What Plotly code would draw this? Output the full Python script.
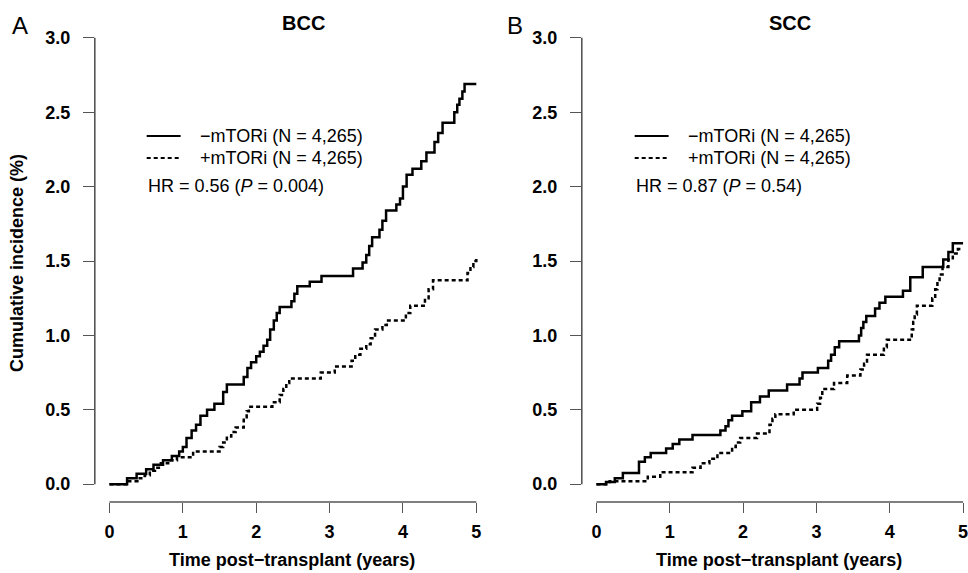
import plotly.graph_objects as go

# ---------------- data ----------------
bcc_minus_t = [0, 0.24, 0.37, 0.5, 0.6, 0.73, 0.85, 0.95, 1.0, 1.05, 1.12, 1.18, 1.24, 1.33, 1.43,
               1.55, 1.6, 1.83, 1.88, 1.93, 2.0, 2.05, 2.1, 2.15, 2.19, 2.24, 2.28, 2.32, 2.48, 2.52,
               2.56, 2.73, 2.89, 3.32, 3.45, 3.5, 3.54, 3.58, 3.68, 3.72, 3.77, 3.91, 3.96, 4.0,
               4.05, 4.13, 4.25, 4.32, 4.43, 4.48, 4.54, 4.7, 4.74, 4.77, 4.81, 4.84, 5.0]
bcc_minus_y = [0, 0.04, 0.07, 0.1, 0.13, 0.16, 0.19, 0.22, 0.25, 0.31, 0.36, 0.4, 0.46, 0.5, 0.54,
               0.62, 0.67, 0.72, 0.78, 0.82, 0.86, 0.89, 0.93, 0.97, 1.04, 1.1, 1.15, 1.19, 1.23, 1.28,
               1.33, 1.36, 1.40, 1.45, 1.49, 1.54, 1.6, 1.66, 1.71, 1.77, 1.84, 1.88, 1.92, 2.0,
               2.08, 2.12, 2.17, 2.23, 2.3, 2.36, 2.43, 2.5, 2.55, 2.59, 2.64, 2.69, 2.69]

bcc_plus_t = [0, 0.25, 0.38, 0.48, 0.55, 0.62, 0.7, 0.8, 0.92, 1.14, 1.5, 1.55, 1.6, 1.66, 1.72,
              1.83, 1.87, 1.9, 2.22, 2.32, 2.37, 2.41, 2.45, 2.88, 3.07, 3.3, 3.35, 3.42, 3.5, 3.56,
              3.62, 3.72, 3.78, 4.04, 4.1, 4.3, 4.35, 4.41, 4.88, 4.92, 4.96, 5.0]
bcc_plus_y = [0, 0.02, 0.04, 0.06, 0.09, 0.11, 0.14, 0.16, 0.18, 0.22, 0.25, 0.28, 0.32, 0.35, 0.38,
              0.45, 0.49, 0.52, 0.55, 0.6, 0.64, 0.68, 0.71, 0.75, 0.79, 0.83, 0.87, 0.91, 0.94, 0.98,
              1.04, 1.07, 1.10, 1.15, 1.20, 1.25, 1.31, 1.37, 1.42, 1.46, 1.50, 1.53]

scc_minus_t = [0, 0.13, 0.25, 0.36, 0.58, 0.66, 0.74, 0.95, 1.04, 1.13, 1.31, 1.69, 1.76, 1.8, 1.85,
               1.99, 2.11, 2.23, 2.35, 2.6, 2.77, 2.81, 3.02, 3.16, 3.2, 3.25, 3.31, 3.58, 3.61, 3.64,
               3.68, 3.8, 3.86, 3.94, 4.18, 4.28, 4.45, 4.73, 4.8, 4.86, 5.0]
scc_minus_y = [0, 0.015, 0.04, 0.075, 0.15, 0.18, 0.21, 0.24, 0.27, 0.30, 0.33, 0.36, 0.39, 0.43, 0.46,
               0.49, 0.55, 0.59, 0.63, 0.67, 0.71, 0.75, 0.78, 0.83, 0.87, 0.92, 0.96, 1.0, 1.05, 1.09,
               1.13, 1.18, 1.22, 1.26, 1.30, 1.39, 1.46, 1.51, 1.56, 1.62, 1.62]

scc_plus_t = [0, 0.18, 0.7, 0.87, 1.31, 1.42, 1.54, 1.65, 1.85, 1.9, 1.96, 2.19, 2.36, 2.4, 2.44,
              2.69, 3.01, 3.05, 3.08, 3.24, 3.42, 3.6, 3.65, 3.69, 3.92, 3.96, 4.3, 4.32, 4.34, 4.37,
              4.58, 4.62, 4.65, 4.68, 4.72, 4.8, 4.86, 4.93, 5.0]
scc_plus_y = [0, 0.02, 0.05, 0.08, 0.11, 0.14, 0.17, 0.21, 0.25, 0.28, 0.31, 0.34, 0.40, 0.44, 0.47,
              0.50, 0.54, 0.58, 0.64, 0.68, 0.73, 0.77, 0.81, 0.87, 0.92, 0.97, 1.04, 1.09, 1.14, 1.2,
              1.25, 1.31, 1.36, 1.41, 1.46, 1.51, 1.55, 1.58, 1.58]

panel_titles = ["BCC", "SCC"]
panel_letters = ["A", "B"]
series_names = ["\u2212mTORi (N = 4,265)", "+mTORi (N = 4,265)"]
hr_texts = ["HR = 0.56 (<i>P</i> = 0.004)", "HR = 0.87 (<i>P</i> = 0.54)"]
x_ticks = [0, 1, 2, 3, 4, 5]
y_ticks = [0.0, 0.5, 1.0, 1.5, 2.0, 2.5, 3.0]
x_title = "Time post\u2212transplant (years)"
y_title = "Cumulative incidence (%)"

# ---------------- layout helpers ----------------
W, H = 968, 573
FONT = "Liberation Sans, Arial, Helvetica, sans-serif"


def px(x):
    return x / W


def py(y):
    return 1 - y / H


fig = go.Figure()

SOLID = dict(color="black", width=2.5, shape="hv")
DASH = dict(color="black", width=2.5, shape="hv", dash="4px,3px")

fig.add_trace(go.Scatter(x=bcc_minus_t, y=bcc_minus_y, mode="lines", line=SOLID,
                         name=series_names[0], xaxis="x", yaxis="y", showlegend=False))
fig.add_trace(go.Scatter(x=bcc_plus_t, y=bcc_plus_y, mode="lines", line=DASH,
                         name=series_names[1], xaxis="x", yaxis="y", showlegend=False))
fig.add_trace(go.Scatter(x=scc_minus_t, y=scc_minus_y, mode="lines", line=SOLID,
                         name=series_names[0], xaxis="x2", yaxis="y2", showlegend=False))
fig.add_trace(go.Scatter(x=scc_plus_t, y=scc_plus_y, mode="lines", line=DASH,
                         name=series_names[1], xaxis="x2", yaxis="y2", showlegend=False))

AX_COLOR = "#555555"
tickfont = dict(family=FONT, size=18, color="black", weight="bold")

xcommon = dict(tickmode="array", tickvals=x_ticks, ticktext=[str(v) for v in x_ticks],
               ticks="outside", ticklen=10, tickwidth=1.4, tickcolor=AX_COLOR,
               showgrid=False, zeroline=False, showline=False, tickfont=tickfont,
               ticklabelstandoff=3, ticklabeloverflow="allow", fixedrange=True)
ycommon = dict(tickmode="array", tickvals=y_ticks, ticktext=[f"{v:.1f}" for v in y_ticks],
               ticks="outside", ticklen=11, tickwidth=1.4, tickcolor=AX_COLOR,
               showgrid=False, zeroline=False, showline=False, tickfont=tickfont,
               ticklabelstandoff=9, range=[-0.12, 3.12], fixedrange=True)

ydom = [py(502), py(20)]

fig.update_layout(
    width=W, height=H,
    margin=dict(l=0, r=0, t=0, b=0),
    paper_bgcolor="white", plot_bgcolor="white",
    showlegend=False,
    font=dict(family=FONT, color="black"),
    xaxis=dict(domain=[px(95), px(492)], range=[-0.2, 5.2], anchor="y", **xcommon),
    yaxis=dict(domain=ydom, anchor="x", **ycommon),
    xaxis2=dict(domain=[px(583), 1.0], range=[-0.2, 5.04], anchor="y2", **xcommon),
    yaxis2=dict(domain=ydom, anchor="x2", **ycommon),
)

shapes = []
annotations = []
panels = [("x", "y", 95, 147), ("x2", "y2", 583, 636)]
for i, (xa, ya, left_px, leg_px) in enumerate(panels):
    # R-style detached axis lines spanning first to last tick
    shapes.append(dict(type="line", xref=xa, yref=f"{ya} domain", x0=x_ticks[0], x1=x_ticks[-1],
                       y0=0, y1=0, line=dict(color=AX_COLOR, width=1.6)))
    shapes.append(dict(type="line", xref=f"{xa} domain", yref=ya, x0=0, x1=0,
                       y0=y_ticks[0], y1=y_ticks[-1], line=dict(color=AX_COLOR, width=1.6)))
    # legend samples
    for j, (yy, dash) in enumerate([(136, None), (158, "4px,3px")]):
        ln = dict(color="black", width=2.2)
        if dash:
            ln["dash"] = dash
        shapes.append(dict(type="line", xref="paper", yref="paper", x0=px(leg_px), x1=px(leg_px + 34),
                           y0=py(yy), y1=py(yy), line=ln))
        annotations.append(dict(text=series_names[j], xref="paper", yref="paper",
                                x=px(leg_px + 51), y=py(yy), xanchor="left", yanchor="middle",
                                showarrow=False, font=dict(family=FONT, size=18, color="black")))
    annotations.append(dict(text=hr_texts[i], xref="paper", yref="paper",
                            x=px(leg_px - 1), y=py(186), xanchor="left", yanchor="middle",
                            showarrow=False, font=dict(family=FONT, size=18, color="black")))

# titles and panel letters
for txt, cx in zip(panel_titles, [304, 792]):
    annotations.append(dict(text=f"<b>{txt}</b>", xref="paper", yref="paper", x=px(cx), y=py(23),
                            xanchor="center", yanchor="middle", showarrow=False,
                            font=dict(family=FONT, size=20, color="black")))
for txt, cx in zip(panel_letters, [20, 516]):
    annotations.append(dict(text=txt, xref="paper", yref="paper", x=px(cx), y=py(25),
                            xanchor="center", yanchor="middle", showarrow=False,
                            font=dict(family=FONT, size=24, color="black")))
# axis titles
for cx in [293, 781]:
    annotations.append(dict(text=f"<b>{x_title}</b>", xref="paper", yref="paper", x=px(cx), y=py(560),
                            xanchor="center", yanchor="middle", showarrow=False,
                            font=dict(family=FONT, size=18, color="black")))
annotations.append(dict(text=f"<b>{y_title}</b>", xref="paper", yref="paper", x=px(17), y=py(263),
                        xanchor="center", yanchor="middle", textangle=-90, showarrow=False,
                        font=dict(family=FONT, size=18, color="black")))

fig.update_layout(shapes=shapes, annotations=annotations)

fig.write_html("out.html")
